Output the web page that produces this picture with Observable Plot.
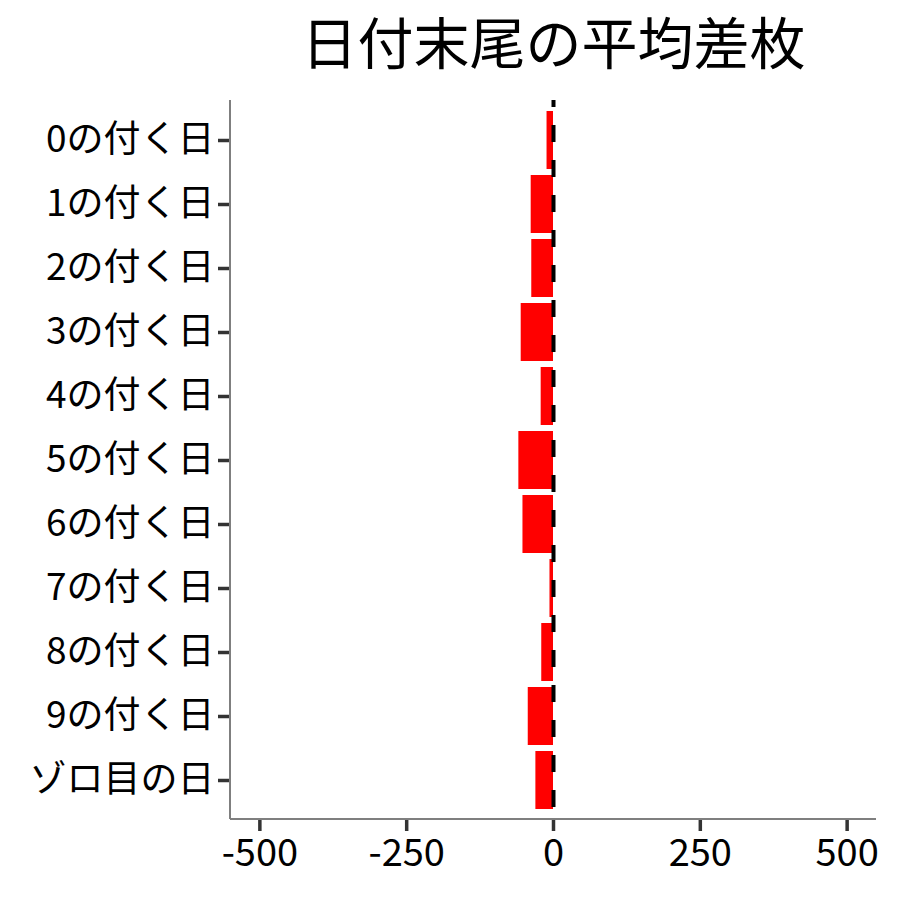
<!DOCTYPE html>
<html>
<head>
<meta charset="utf-8">
<script src="https://cdn.jsdelivr.net/npm/d3@7"></script>
<script src="https://cdn.jsdelivr.net/npm/@observablehq/plot@0.6"></script>
<style>
  body { margin: 0; background: white; }
</style>
</head>
<body>
<div id="chart"></div>
<script>
const titleText = "日付末尾の平均差枚";
const categories = ["0の付く日","1の付く日","2の付く日","3の付く日","4の付く日","5の付く日","6の付く日","7の付く日","8の付く日","9の付く日","ゾロ目の日"];
const values = [-11, -38, -37, -55, -21, -59, -52, -6, -20, -43, -30];
const xTicks = [-500, -250, 0, 250, 500];
const xDomain = [-550, 550];

const data = categories.map((c, i) => ({label: c, value: values[i]}));

const W = 900, H = 900;
const mL = 230, mR = 24, mT = 100, mB = 81;
const font = "'Noto Sans CJK JP', 'Noto Sans', sans-serif";

const chart = Plot.plot({
  width: W, height: H,
  marginLeft: mL, marginRight: mR, marginTop: mT, marginBottom: mB,
  style: {fontFamily: font, background: "white", color: "black"},
  x: {domain: xDomain},
  y: {domain: categories, paddingInner: 0.1, paddingOuter: 0.15, align: 0.5},
  marks: [
    Plot.barX(data, {x: "value", y: "label", fill: "#FF0000"}),
    Plot.ruleX([0], {stroke: "black", strokeWidth: 4, strokeDasharray: "17,18", strokeDashoffset: 10}),
    Plot.axisX({ticks: xTicks, tickSize: 12, tickPadding: 8, fontSize: 38, stroke: "#333", strokeWidth: 3.5, label: null, tickFormat: d => String(d), fill: "black"}),
    Plot.axisY({tickSize: 12, tickPadding: 4, fontSize: 37, stroke: "#333", strokeWidth: 3.5, label: null, fill: "black"}),
    Plot.text([titleText], {frameAnchor: "top", dy: -54, lineAnchor: "middle", fontSize: 56, fill: "black"})
  ]
});

document.getElementById("chart").appendChild(chart);

// axis lines (left and bottom) along panel edges
const xr = chart.scale("x").range;
const svg = d3.select(chart);
svg.append("line")
  .attr("x1", xr[0]).attr("x2", xr[0])
  .attr("y1", mT).attr("y2", H - mB)
  .attr("stroke", "#7f7f7f").attr("stroke-width", 2);
svg.append("line")
  .attr("x1", xr[0]).attr("x2", xr[1])
  .attr("y1", H - mB).attr("y2", H - mB)
  .attr("stroke", "#7f7f7f").attr("stroke-width", 2);
</script>
</body>
</html>
